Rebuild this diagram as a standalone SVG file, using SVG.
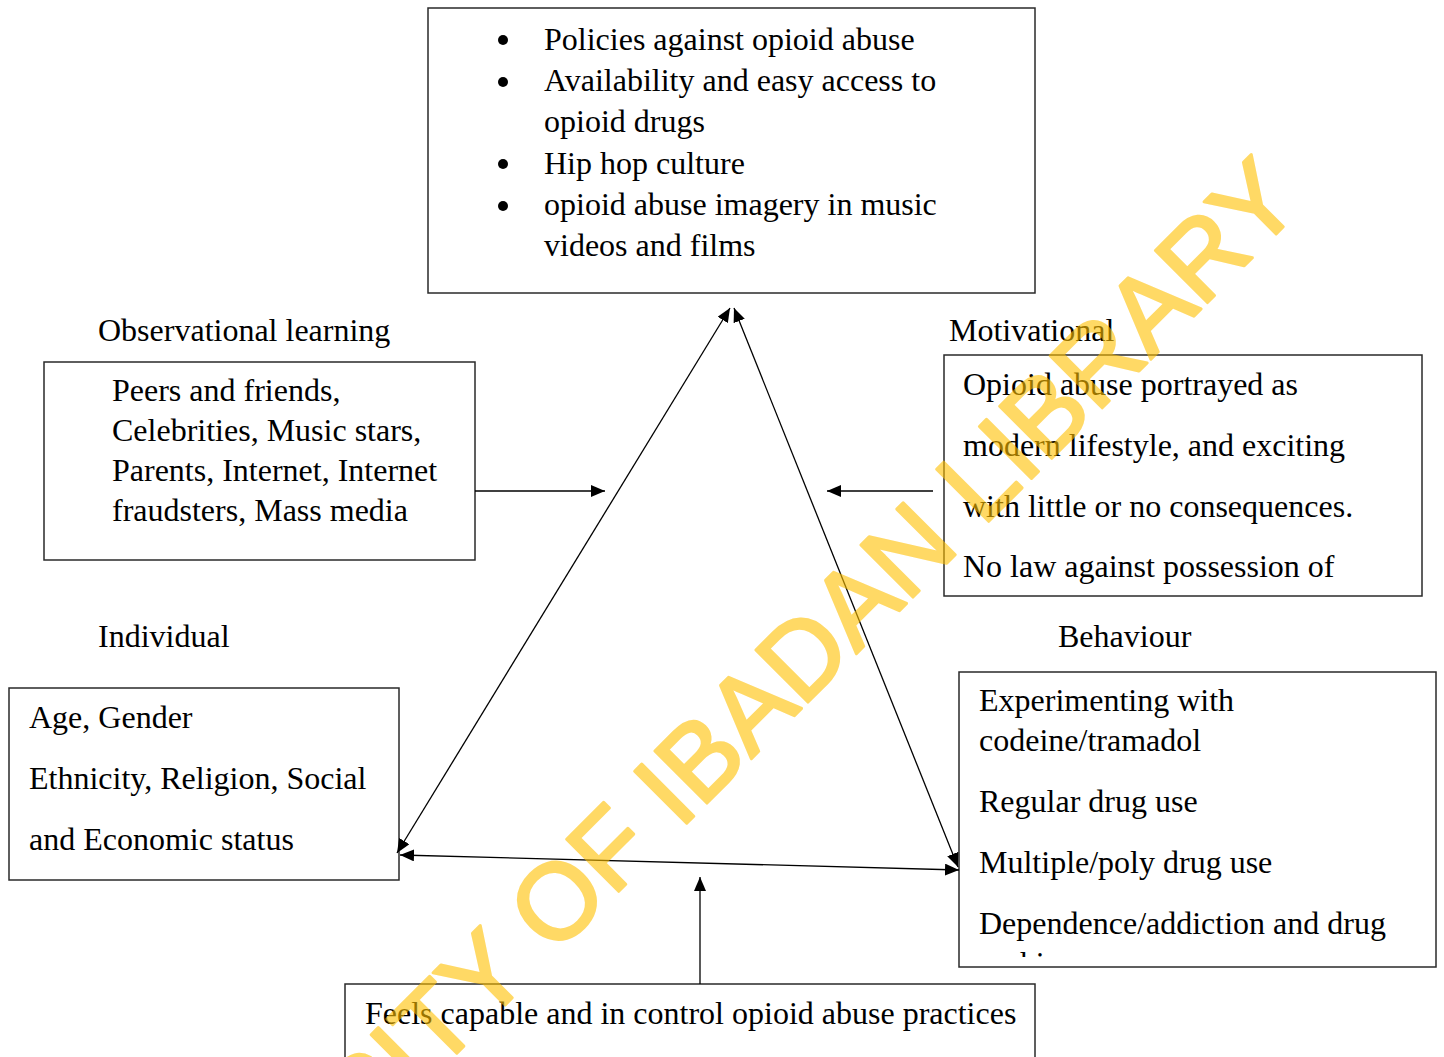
<svg xmlns="http://www.w3.org/2000/svg" width="1444" height="1057" viewBox="0 0 1444 1057">
  <style>
    .box { fill: #ffffff; stroke: #2a2a2a; stroke-width: 1.5; }
    .t { font-family: "Liberation Serif", "Times New Roman", serif; font-size: 32px; fill: #000000; }
    .conn { stroke: #000000; stroke-width: 1.3; fill: none; }
    .wm { font-family: "Liberation Sans", Arial, sans-serif; font-weight: normal; font-size: 107px; fill: #FFC000; stroke: #FFC000; stroke-width: 3; stroke-linejoin: round; opacity: 0.6; }
  </style>
  <defs>
    <marker id="arrow" viewBox="0 0 14 12" refX="14" refY="6" markerWidth="14" markerHeight="12" markerUnits="userSpaceOnUse" orient="auto-start-reverse">
      <path d="M0,0 L14,6 L0,12 z" fill="#000000"/>
    </marker>
    <clipPath id="clipBehaviour">
      <rect x="959" y="672" width="477" height="285"/>
    </clipPath>
  </defs>
  <rect x="0" y="0" width="1444" height="1057" fill="#ffffff"/>

  <g id="environment">
    <rect class="box" x="428" y="8" width="607" height="285"/>
    <circle cx="503" cy="40" r="5"/>
    <circle cx="503" cy="82" r="5"/>
    <circle cx="503" cy="164" r="5"/>
    <circle cx="503" cy="206" r="5"/>
    <text class="t" x="544" y="49.5">Policies against opioid abuse</text>
    <text class="t" x="544" y="91">Availability and easy access to</text>
    <text class="t" x="544" y="132">opioid drugs</text>
    <text class="t" x="544" y="173.5">Hip hop culture</text>
    <text class="t" x="544" y="215">opioid abuse imagery in music</text>
    <text class="t" x="544" y="256">videos and films</text>
  </g>

  <g id="observational">
    <text class="t" x="98" y="341">Observational learning</text>
    <rect class="box" x="44" y="362" width="431" height="198"/>
    <text class="t" x="112" y="401">Peers and friends,</text>
    <text class="t" x="112" y="441">Celebrities, Music stars,</text>
    <text class="t" x="112" y="481">Parents, Internet, Internet</text>
    <text class="t" x="112" y="521">fraudsters, Mass media</text>
  </g>

  <g id="motivational">
    <text class="t" x="949" y="341">Motivational</text>
    <rect class="box" x="944" y="355" width="478" height="241"/>
    <text class="t" x="963" y="395">Opioid abuse portrayed as</text>
    <text class="t" x="963" y="456">modern lifestyle, and exciting</text>
    <text class="t" x="963" y="517">with little or no consequences.</text>
    <text class="t" x="963" y="577">No law against possession of</text>
  </g>

  <g id="individual">
    <text class="t" x="98" y="647">Individual</text>
    <rect class="box" x="9" y="688" width="390" height="192"/>
    <text class="t" x="29" y="728">Age, Gender</text>
    <text class="t" x="29" y="789">Ethnicity, Religion, Social</text>
    <text class="t" x="29" y="850">and Economic status</text>
  </g>

  <g id="behaviour">
    <text class="t" x="1058" y="647">Behaviour</text>
    <rect class="box" x="959" y="672" width="477" height="295"/>
    <g clip-path="url(#clipBehaviour)">
      <text class="t" x="979" y="711">Experimenting with</text>
      <text class="t" x="979" y="751">codeine/tramadol</text>
      <text class="t" x="979" y="812">Regular drug use</text>
      <text class="t" x="979" y="873">Multiple/poly drug use</text>
      <text class="t" x="979" y="934">Dependence/addiction and drug</text>
      <text class="t" x="979" y="974">seeking</text>
    </g>
  </g>

  <g id="self-efficacy">
    <rect class="box" x="345" y="984" width="690" height="90"/>
    <text class="t" x="365" y="1024">Feels capable and in control opioid abuse practices</text>
  </g>

  <g id="connectors">
    <line class="conn" x1="730" y1="308" x2="397" y2="853" marker-start="url(#arrow)" marker-end="url(#arrow)"/>
    <line class="conn" x1="734" y1="308" x2="958" y2="867" marker-start="url(#arrow)" marker-end="url(#arrow)"/>
    <line class="conn" x1="400" y1="855" x2="959" y2="870" marker-start="url(#arrow)" marker-end="url(#arrow)"/>
    <line class="conn" x1="475" y1="491" x2="605" y2="491" marker-end="url(#arrow)"/>
    <line class="conn" x1="933" y1="491" x2="827" y2="491" marker-end="url(#arrow)"/>
    <line class="conn" x1="700" y1="984" x2="700" y2="877" marker-end="url(#arrow)"/>
  </g>

  <text class="wm" transform="translate(80,1430) rotate(-45)" x="0" y="0">UNIVERSITY OF IBADAN LIBRARY</text>
</svg>
